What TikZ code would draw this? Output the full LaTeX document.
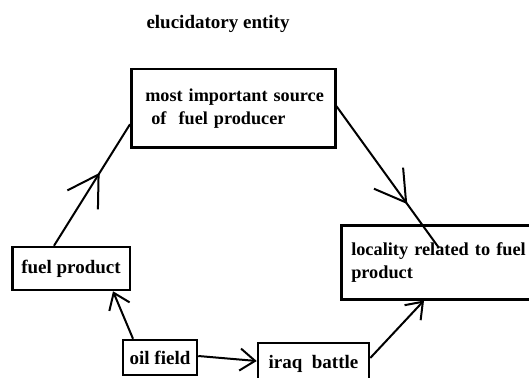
\documentclass[tikz,border=0pt]{standalone}
\usepackage{fontspec}
\setmainfont{Liberation Serif}
\usetikzlibrary{arrows.meta,decorations.markings}

\begin{document}
\begin{tikzpicture}[x=1pt,y=-1pt,
        box/.style={draw,line width=2.5pt,font=\bfseries\fontsize{19}{22}\selectfont,inner sep=0pt},
        link/.style={line width=2pt},
        endtip/.style={-{Straight Barb[length=15pt,width=22pt]}},
        midtip/.style={postaction={decorate},decoration={markings,mark=at position #1 with {\arrow{Straight Barb[length=30pt,width=36pt]}}}}]
        \useasboundingbox (0,0) rectangle (529,377);

        \node[font=\bfseries\fontsize{19}{22}\selectfont] (title) at (218,24) {elucidatory entity};

        \node[box,anchor=north west,text width=186pt,minimum height=78pt,align=left,inner xsep=9pt,font=\bfseries\fontsize{18.2}{23}\selectfont] (src) at (130,68) {\mbox{\hspace*{5pt}most important source}\\\mbox{\hspace*{5pt}\ of\ \ fuel producer}};
        \node[box,anchor=north west,text width=196pt,minimum height=74pt,align=left,inner xsep=10pt,font=\bfseries\fontsize{18.3}{23}\selectfont] (loc) at (340,224) {\mbox{locality related to fuel}\\product};
        \node[box,minimum width=117.5pt,minimum height=43pt] (fuel) at (71,268.5) {fuel product};
        \node[box,minimum width=74pt,minimum height=35pt] (oil) at (160,357.5) {oil field};
        \node[box,minimum width=111pt,minimum height=42pt] (iraq) at (313.5,364) {iraq\ \ battle};

        \draw[link,midtip=0.6] ([xshift=-17pt]fuel.north) -- ([yshift=-16pt]src.west);

        \draw[link,midtip=0.69] ([yshift=2pt]src.east) -- ([xshift=99pt,yshift=-24pt]loc.north west);

        \draw[link,endtip] ([xshift=-27pt]oil.north) -- ([xshift=42pt]fuel.south);

        \draw[link,endtip] ([yshift=1.5pt]oil.east) -- ([yshift=3pt]iraq.west);

        \draw[link,endtip] ([yshift=6pt]iraq.east) -- ([xshift=84pt]loc.south west);

\end{tikzpicture}
\end{document}
